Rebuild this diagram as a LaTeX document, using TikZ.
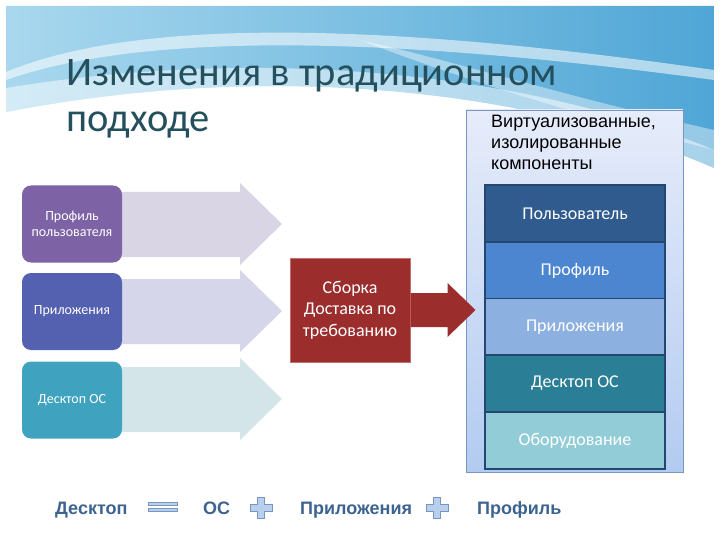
\documentclass[tikz,border=0pt]{standalone}
\usepackage{fontspec}
\setmainfont{Carlito}
\newfontfamily\arialfont{Liberation Sans}
\usetikzlibrary{calc}
\definecolor{titleblue}{HTML}{24505E}
\definecolor{skylight}{HTML}{A9D8EE}
\definecolor{skydark}{HTML}{4FA6D6}
\definecolor{purplebox}{HTML}{7D63A6}
\definecolor{indigobox}{HTML}{5460B0}
\definecolor{tealbox}{HTML}{3FA3C0}
\definecolor{arrowa}{HTML}{DAD5E5}
\definecolor{arrowb}{HTML}{D6D6EA}
\definecolor{arrowc}{HTML}{D3E5E9}
\definecolor{darkred}{HTML}{9B2D2D}
\definecolor{redline}{HTML}{C47070}
\definecolor{stackline}{HTML}{24466F}
\definecolor{userblue}{HTML}{2F5B8F}
\definecolor{profblue}{HTML}{4D86D0}
\definecolor{appblue}{HTML}{8CB0E0}
\definecolor{osteal}{HTML}{2A7E95}
\definecolor{hwteal}{HTML}{92CCD7}
\definecolor{vtop}{HTML}{E6ECFA}
\definecolor{vbottom}{HTML}{B3CBF1}
\definecolor{bottomblue}{HTML}{3D6491}
\definecolor{signfill}{HTML}{B8D0EE}
\definecolor{signline}{HTML}{7896C0}

\begin{document}
\begin{tikzpicture}[x=1pt,y=-1pt]
\tikzstyle{titletext}=[anchor=base west,text=titleblue,font=\fontsize{40.5}{43}\selectfont,inner sep=0pt]
\tikzstyle{leftbox}=[rounded corners=9pt,minimum width=100pt,minimum height=77pt,text=white,font=\fontsize{14}{16}\selectfont,align=center,inner sep=0pt]
\tikzstyle{layer}=[draw=stackline,line width=1.2pt,minimum width=180pt,minimum height=57pt,text=white,font=\fontsize{18}{20}\selectfont,inner sep=0pt]
\tikzstyle{bottomtext}=[text=bottomblue,font=\arialfont\bfseries\fontsize{18}{20}\selectfont,anchor=base west,inner sep=0pt]
\tikzstyle{sign}=[fill=signfill,draw=signline,line width=0.6pt]
\useasboundingbox (0,0) rectangle (720,540);
\fill[white] (0,0) rectangle (720,540);
% background swoosh
\shade[left color=skylight, right color=skydark] (6,6) -- (714,6) -- (714,168) .. controls (560,100) and (300,55) .. (6,112) -- cycle;
\fill[white,opacity=0.55] (6,72) .. controls (120,25) and (330,15) .. (714,70) -- (714,80) .. controls (330,28) and (120,40) .. (6,80) -- cycle;
\fill[white,opacity=0.4] (360,40) .. controls (450,60) and (560,95) .. (714,130) -- (714,150) .. controls (560,110) and (450,75) .. (360,40) -- cycle;
\fill[white,opacity=0.5] (6,88) .. controls (300,40) and (560,85) .. (714,150) -- (714,168) .. controls (560,100) and (300,55) .. (6,112) -- cycle;
% title
\node[titletext] (t1) at (66,86) {Изменения в традиционном};
\node[titletext] (t2) at (66,132) {подходе};
% big arrows
\fill[arrowa] (115,192) -- (240,192) -- (240,183) -- (282,224) -- (240,265) -- (240,257) -- (115,257) -- cycle;
\fill[arrowb] (115,279) -- (240,279) -- (240,270) -- (282,311) -- (240,352) -- (240,344) -- (115,344) -- cycle;
\fill[arrowc] (115,367) -- (240,367) -- (240,358) -- (282,399) -- (240,440) -- (240,432) -- (115,432) -- cycle;
% left boxes
\node[leftbox,fill=purplebox] (lp) at (72,224) {Профиль\\пользователя};
\node[leftbox,fill=indigobox] (la) at (72,311.5) {Приложения};
\node[leftbox,fill=tealbox] (lo) at (72,400) {Десктоп ОС};
% virtualized components
\node[top color=vtop,bottom color=vbottom,draw=signline,line width=0.6pt,minimum width=217pt,minimum height=362pt,inner sep=0pt] (vbox) at (574.5,291) {};
\node[anchor=base west,align=left,font=\arialfont\fontsize{18}{21}\selectfont,inner sep=0pt] (hdr) at (491,170) {Виртуализованные,\\изолированные\\компоненты};
\node[layer,fill=userblue] (u) at (575,213.5) {Пользователь};
\node[layer,fill=profblue] (p) at (575,270.5) {Профиль};
\node[layer,fill=appblue] (a) at (575,327) {Приложения};
\node[layer,fill=osteal] (o) at (575,383.5) {Десктоп ОС};
\node[layer,fill=hwteal] (h) at (575,440.5) {Оборудование};
% assembly box and arrow
\node[fill=darkred,draw=redline,line width=1pt,minimum width=120pt,minimum height=104pt,text=white,align=center,font=\fontsize{18}{21.5}\selectfont,inner sep=0pt] (sb) at (350,310) {Сборка\\Доставка по\\требованию};
\fill[darkred] ($(sb.east)+(0,-17)$) -- ($(sb.east)+(37,-17)$) -- ($(sb.east)+(37,-27)$) -- ($(sb.east)+(65,0)$) -- ($(sb.east)+(37,27)$) -- ($(sb.east)+(37,17)$) -- ($(sb.east)+(0,17)$) -- cycle;
% formula
\node[bottomtext] (fd) at (55,514) {Десктоп};
\fill[sign] (148,502) rectangle (177,505.5);
\fill[sign] (148,508) rectangle (177,511.5);
\node[bottomtext] (fo) at (203,514) {ОС};
\filldraw[sign] (257.5,497) -- (264.5,497) -- (264.5,504) -- (272,504) -- (272,511) -- (264.5,511) -- (264.5,518) -- (257.5,518) -- (257.5,511) -- (250,511) -- (250,504) -- (257.5,504) -- cycle;
\node[bottomtext] (fa) at (300,514) {Приложения};
\filldraw[sign] (433.5,497) -- (440.5,497) -- (440.5,504) -- (448,504) -- (448,511) -- (440.5,511) -- (440.5,518) -- (433.5,518) -- (433.5,511) -- (426,511) -- (426,504) -- (433.5,504) -- cycle;
\node[bottomtext] (fp) at (477,514) {Профиль};
\end{tikzpicture}
\end{document}
